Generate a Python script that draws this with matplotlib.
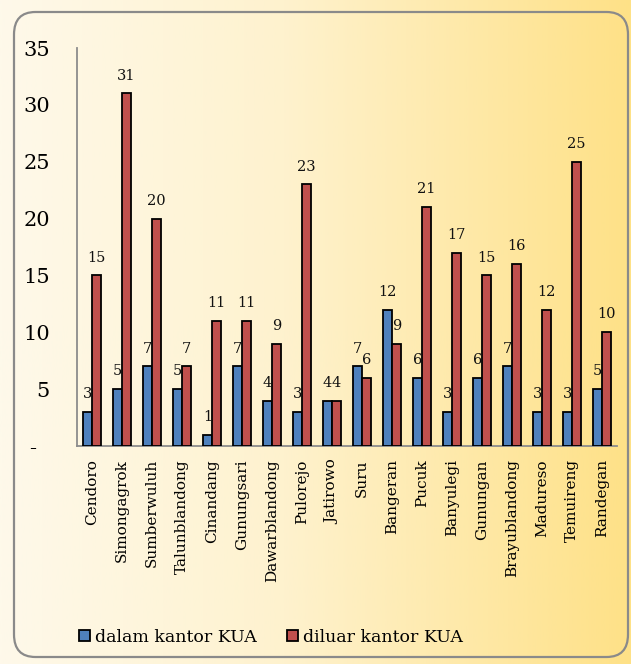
import numpy as np
import matplotlib
matplotlib.use("Agg")
import matplotlib.pyplot as plt
from matplotlib.patches import FancyBboxPatch
from matplotlib.colors import LinearSegmentedColormap

categories = ["Cendoro", "Simongagrok", "Sumberwuluh", "Talunblandong", "Cinandang",
              "Gunungsari", "Dawarblandong", "Pulorejo", "Jatirowo", "Suru", "Bangeran",
              "Pucuk", "Banyulegi", "Gunungan", "Brayublandong", "Madureso", "Temuireng",
              "Randegan"]
dalam = [3, 5, 7, 5, 1, 7, 4, 3, 4, 7, 12, 6, 3, 6, 7, 3, 3, 5]
diluar = [15, 31, 20, 7, 11, 11, 9, 23, 4, 6, 9, 21, 17, 15, 16, 12, 25, 10]
series_names = ["dalam kantor KUA", "diluar kantor KUA"]
yticks = [0, 5, 10, 15, 20, 25, 30, 35]
ytick_labels = ["-  ", "5", "10", "15", "20", "25", "30", "35"]

FONT = "DejaVu Serif"
W, H = 631, 664
fig = plt.figure(figsize=(W / 100, H / 100), dpi=100)

# background gradient
bg = fig.add_axes([0, 0, 1, 1], zorder=-10)
cmap = LinearSegmentedColormap.from_list(
    "bg", [(0.0, (254/255, 249/255, 234/255)),
           (0.45, (254/255, 242/255, 206/255)),
           (1.0, (254/255, 225/255, 135/255))])
grad = np.linspace(0, 1, 512).reshape(1, -1)
bg.imshow(grad, aspect="auto", cmap=cmap, extent=[0, 1, 0, 1])
bg.set_axis_off()

# rounded border
border = FancyBboxPatch((14 / W, 7 / H), (628 - 14) / W, (652 - 7) / H,
                        boxstyle="round,pad=0,rounding_size=0.034",
                        transform=fig.transFigure, fill=False,
                        edgecolor="#8a8a8a", linewidth=1.6, zorder=-5)
fig.patches.append(border)

ax = fig.add_axes([77 / W, 1 - 446 / H, (617 - 77) / W, (446 - 48) / H])
ax.patch.set_alpha(0)

x = np.arange(len(categories))
bw = 0.3
b1 = ax.bar(x - bw / 2, dalam, bw, color="#4F81BD", edgecolor="black", linewidth=1.3,
            label=series_names[0], zorder=3)
b2 = ax.bar(x + bw / 2, diluar, bw, color="#C0504D", edgecolor="black", linewidth=1.3,
            label=series_names[1], zorder=3)

for xi, v in zip(x - bw / 2, dalam):
    ax.annotate(str(v), (xi, v), xytext=(0, 10), textcoords="offset points",
                ha="center", va="baseline", fontsize=10.5, family=FONT, color="#111111")
for xi, v in zip(x + bw / 2, diluar):
    ax.annotate(str(v), (xi, v), xytext=(0, 10), textcoords="offset points",
                ha="center", va="baseline", fontsize=10.5, family=FONT, color="#111111")

ax.set_xlim(-0.5, len(categories) - 0.5)
ax.set_ylim(0, 35)
ax.set_yticks(yticks)
ax.set_yticklabels(ytick_labels, family=FONT, fontsize=15)
ax.set_xticks(x)
ax.set_xticklabels(categories, rotation=90, family=FONT, fontsize=11, va="top", ha="center")
ax.tick_params(axis="y", length=0, pad=19.5)
ax.tick_params(axis="x", length=0, pad=9.5)
for s in ["top", "right"]:
    ax.spines[s].set_visible(False)
ax.spines["left"].set_color("#8c8c8c")
ax.spines["bottom"].set_color("#8c8c8c")
ax.spines["left"].set_linewidth(1.3)
ax.spines["bottom"].set_linewidth(1.3)

fig.legend(handles=[b1, b2], labels=series_names, loc="center",
           bbox_to_anchor=(271 / W, 1 - 637 / H), ncol=2, frameon=False,
           prop={"family": FONT, "size": 12.5}, handlelength=0.65, handleheight=0.65,
           handletextpad=0.3, columnspacing=1.7, borderpad=0)

fig.savefig("out.png", dpi=100)
